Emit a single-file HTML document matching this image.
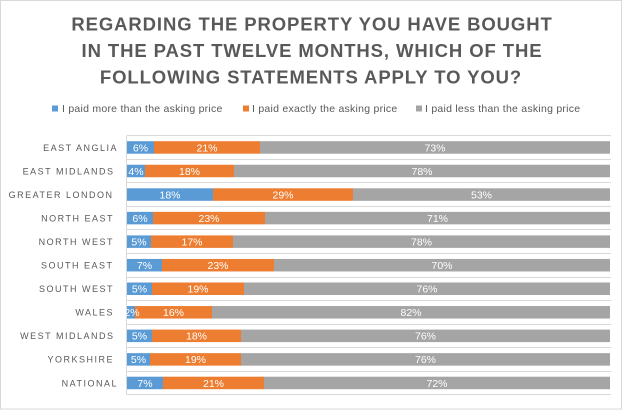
<!DOCTYPE html>
<html>
<head>
<meta charset="utf-8">
<style>
  html,body{margin:0;padding:0;background:#fff;}
  svg{display:block;}
  .t{font-family:"Liberation Sans",Arial,sans-serif;font-weight:bold;font-size:18.5px;fill:#595959;letter-spacing:0.9px;}
  .lg{font-family:"Liberation Sans",Arial,sans-serif;font-size:10.5px;fill:#595959;letter-spacing:0.25px;}
  .cat{font-family:"Liberation Sans",Arial,sans-serif;font-size:9px;fill:#595959;letter-spacing:1.5px;}
  .v{font-family:"Liberation Sans",Arial,sans-serif;font-size:10.5px;fill:#ffffff;}
</style>
</head>
<body>
<svg width="625" height="410" viewBox="0 0 625 410" xmlns="http://www.w3.org/2000/svg">
  <rect x="0" y="0" width="625" height="410" fill="#ffffff"/>
  <rect x="0.5" y="0.5" width="621" height="408.5" fill="none" stroke="#d9d9d9" stroke-width="1"/>

  <!-- Title -->
  <text class="t" x="312" y="30.5" text-anchor="middle">REGARDING THE PROPERTY YOU HAVE BOUGHT</text>
  <text class="t" x="312" y="57" text-anchor="middle">IN THE PAST TWELVE MONTHS, WHICH OF THE</text>
  <text class="t" x="311" y="83.3" text-anchor="middle">FOLLOWING STATEMENTS APPLY TO YOU?</text>

  <!-- Legend -->
  <rect x="52" y="105.5" width="6" height="6" fill="#5b9bd5"/>
  <text class="lg" x="62" y="112.2">I paid more than the asking price</text>
  <rect x="243" y="105.5" width="6" height="6" fill="#ed7d31"/>
  <text class="lg" x="252" y="112.2">I paid exactly the asking price</text>
  <rect x="416" y="105.5" width="6" height="6" fill="#a5a5a5"/>
  <text class="lg" x="425" y="112.2">I paid less than the asking price</text>

  <!-- Gridlines -->
  <g stroke="#d9d9d9" stroke-width="1">
    <line x1="127" y1="135.5" x2="611" y2="135.5"/>
    <line x1="127" y1="159.5" x2="611" y2="159.5"/>
    <line x1="127" y1="182.5" x2="611" y2="182.5"/>
    <line x1="127" y1="206.5" x2="611" y2="206.5"/>
    <line x1="127" y1="229.5" x2="611" y2="229.5"/>
    <line x1="127" y1="253.5" x2="611" y2="253.5"/>
    <line x1="127" y1="277.5" x2="611" y2="277.5"/>
    <line x1="127" y1="300.5" x2="611" y2="300.5"/>
    <line x1="127" y1="324.5" x2="611" y2="324.5"/>
    <line x1="127" y1="347.5" x2="611" y2="347.5"/>
    <line x1="127" y1="371.5" x2="611" y2="371.5"/>
    <line x1="127" y1="394.5" x2="611" y2="394.5"/>
    <line x1="126.5" y1="135.5" x2="126.5" y2="394.5"/>
  </g>

  <!-- Bars -->
  <g>
    <!-- EA -->
    <rect x="127" y="141.2" width="27" height="12.5" fill="#5b9bd5"/>
    <rect x="154" y="141.2" width="106" height="12.5" fill="#ed7d31"/>
    <rect x="260" y="141.2" width="350" height="12.5" fill="#a5a5a5"/>
    <!-- EM -->
    <rect x="127" y="164.75" width="18" height="12.5" fill="#5b9bd5"/>
    <rect x="145" y="164.75" width="89" height="12.5" fill="#ed7d31"/>
    <rect x="234" y="164.75" width="376" height="12.5" fill="#a5a5a5"/>
    <!-- GL -->
    <rect x="127" y="188.3" width="86" height="12.5" fill="#5b9bd5"/>
    <rect x="213" y="188.3" width="140" height="12.5" fill="#ed7d31"/>
    <rect x="353" y="188.3" width="257" height="12.5" fill="#a5a5a5"/>
    <!-- NE -->
    <rect x="127" y="211.85" width="26" height="12.5" fill="#5b9bd5"/>
    <rect x="153" y="211.85" width="112" height="12.5" fill="#ed7d31"/>
    <rect x="265" y="211.85" width="345" height="12.5" fill="#a5a5a5"/>
    <!-- NW -->
    <rect x="127" y="235.4" width="24" height="12.5" fill="#5b9bd5"/>
    <rect x="151" y="235.4" width="82" height="12.5" fill="#ed7d31"/>
    <rect x="233" y="235.4" width="377" height="12.5" fill="#a5a5a5"/>
    <!-- SE -->
    <rect x="127" y="258.95" width="35" height="12.5" fill="#5b9bd5"/>
    <rect x="162" y="258.95" width="112" height="12.5" fill="#ed7d31"/>
    <rect x="274" y="258.95" width="336" height="12.5" fill="#a5a5a5"/>
    <!-- SW -->
    <rect x="127" y="282.5" width="25" height="12.5" fill="#5b9bd5"/>
    <rect x="152" y="282.5" width="92" height="12.5" fill="#ed7d31"/>
    <rect x="244" y="282.5" width="366" height="12.5" fill="#a5a5a5"/>
    <!-- WA -->
    <rect x="127" y="306.05" width="8" height="12.5" fill="#5b9bd5"/>
    <rect x="135" y="306.05" width="77" height="12.5" fill="#ed7d31"/>
    <rect x="212" y="306.05" width="398" height="12.5" fill="#a5a5a5"/>
    <!-- WM -->
    <rect x="127" y="329.6" width="25" height="12.5" fill="#5b9bd5"/>
    <rect x="152" y="329.6" width="89" height="12.5" fill="#ed7d31"/>
    <rect x="241" y="329.6" width="369" height="12.5" fill="#a5a5a5"/>
    <!-- YO -->
    <rect x="127" y="353.15" width="23" height="12.5" fill="#5b9bd5"/>
    <rect x="150" y="353.15" width="91" height="12.5" fill="#ed7d31"/>
    <rect x="241" y="353.15" width="369" height="12.5" fill="#a5a5a5"/>
    <!-- NA -->
    <rect x="127" y="376.7" width="36" height="12.5" fill="#5b9bd5"/>
    <rect x="163" y="376.7" width="101" height="12.5" fill="#ed7d31"/>
    <rect x="264" y="376.7" width="346" height="12.5" fill="#a5a5a5"/>
  </g>

  <!-- Category labels -->
  <g class="cat" text-anchor="end">
    <text class="cat" x="118" y="150.8">EAST ANGLIA</text>
    <text class="cat" x="114.5" y="174.3">EAST MIDLANDS</text>
    <text class="cat" x="113.5" y="197.9">GREATER LONDON</text>
    <text class="cat" x="114" y="221.4">NORTH EAST</text>
    <text class="cat" x="114" y="245">NORTH WEST</text>
    <text class="cat" x="113.5" y="268.5">SOUTH EAST</text>
    <text class="cat" x="114" y="292.1">SOUTH WEST</text>
    <text class="cat" x="114" y="315.6">WALES</text>
    <text class="cat" x="114.5" y="339.2">WEST MIDLANDS</text>
    <text class="cat" x="114" y="362.7">YORKSHIRE</text>
    <text class="cat" x="118" y="386.3">NATIONAL</text>
  </g>

  <!-- Value labels -->
  <g class="v" text-anchor="middle">
    <text class="v" x="140.5" y="151.3">6%</text>
    <text class="v" x="207" y="151.3">21%</text>
    <text class="v" x="435" y="151.3">73%</text>

    <text class="v" x="136" y="174.8">4%</text>
    <text class="v" x="189.5" y="174.8">18%</text>
    <text class="v" x="422" y="174.8">78%</text>

    <text class="v" x="170" y="198.4">18%</text>
    <text class="v" x="283" y="198.4">29%</text>
    <text class="v" x="481.5" y="198.4">53%</text>

    <text class="v" x="140" y="221.9">6%</text>
    <text class="v" x="209" y="221.9">23%</text>
    <text class="v" x="437.5" y="221.9">71%</text>

    <text class="v" x="139" y="245.5">5%</text>
    <text class="v" x="192" y="245.5">17%</text>
    <text class="v" x="421.5" y="245.5">78%</text>

    <text class="v" x="144.5" y="269">7%</text>
    <text class="v" x="218" y="269">23%</text>
    <text class="v" x="442" y="269">70%</text>

    <text class="v" x="139.5" y="292.6">5%</text>
    <text class="v" x="198" y="292.6">19%</text>
    <text class="v" x="427" y="292.6">76%</text>

    <text class="v" x="132" y="316.1">2%</text>
    <text class="v" x="173.5" y="316.1">16%</text>
    <text class="v" x="411" y="316.1">82%</text>

    <text class="v" x="139.5" y="339.7">5%</text>
    <text class="v" x="196.5" y="339.7">18%</text>
    <text class="v" x="425.5" y="339.7">76%</text>

    <text class="v" x="138.5" y="363.2">5%</text>
    <text class="v" x="195.5" y="363.2">19%</text>
    <text class="v" x="425.5" y="363.2">76%</text>

    <text class="v" x="145" y="386.8">7%</text>
    <text class="v" x="213.5" y="386.8">21%</text>
    <text class="v" x="437" y="386.8">72%</text>
  </g>
</svg>
</body>
</html>
